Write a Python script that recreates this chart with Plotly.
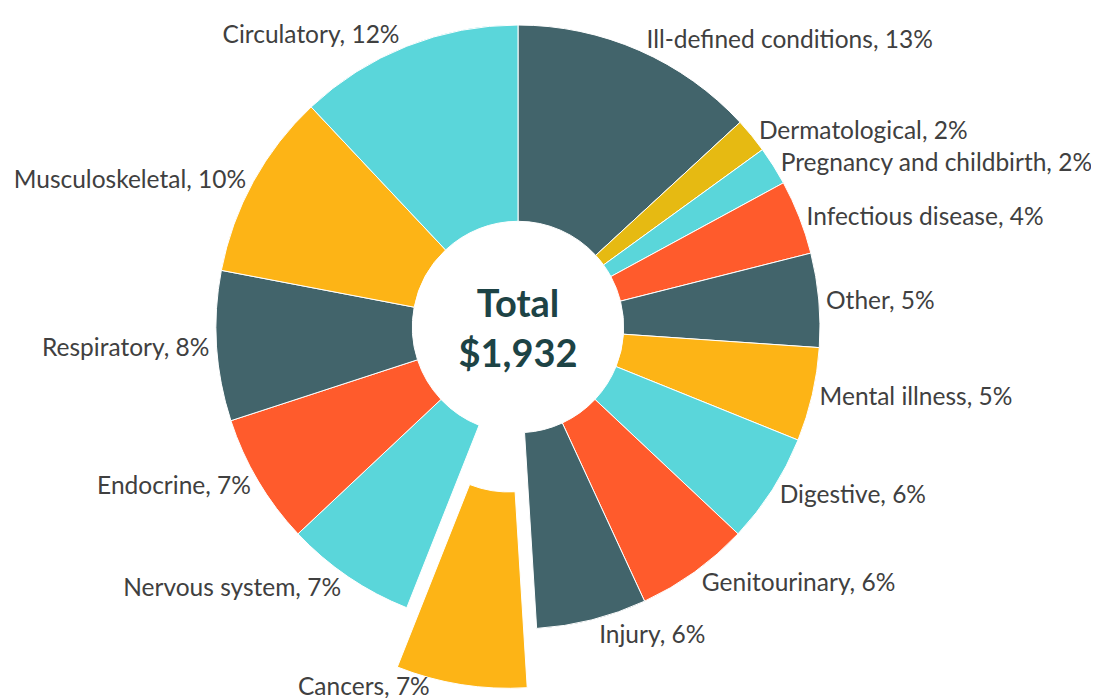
import math
import plotly.graph_objects as go

categories = ["Ill-defined conditions", "Dermatological", "Pregnancy and childbirth",
              "Infectious disease", "Other", "Mental illness", "Digestive",
              "Genitourinary", "Injury", "Cancers", "Nervous system", "Endocrine",
              "Respiratory", "Musculoskeletal", "Circulatory"]
spending = [254, 36, 40, 77, 97, 97, 114, 118, 114, 135, 135, 135, 155, 193, 232]
total_label = "$1,932"
pulled_category = "Cancers"

DARK = "#42646B"
GOLD = "#E6BA12"
TEAL = "#5AD6DA"
RED = "#FF5B2C"
AMBER = "#FDB416"
colors = [DARK, GOLD, TEAL, RED, DARK, AMBER, TEAL, RED, DARK, AMBER, TEAL, RED, DARK, AMBER, TEAL]

W, H = 1099, 698
PAGE_MARGIN = 8                # the html body's default margin shifts the figure
CX, CY, R = 518 - PAGE_MARGIN, 327 - PAGE_MARGIN, 302   # donut centre / radius (px)
PULL_PX = 60                   # how far the highlighted slice is pulled out
HOLE = 0.35
FONT = "Lato"
TEXT_COLOR = "#404040"
LABEL_SIZE = 24.5
PULLED_LABEL_DX, PULLED_LABEL_DY = -29, 1   # label offset from the pulled slice's outer mid point

idx = categories.index(pulled_category)
total = sum(spending)
before = sum(spending[:idx])
mid = (before + spending[idx] / 2) / total * 2 * math.pi
pcx = CX + PULL_PX * math.sin(mid)
pcy = CY - PULL_PX * math.cos(mid)


def domain(cx, cy, r):
    return dict(x=[(cx - r) / W, (cx + r) / W], y=[1 - (cy + r) / H, 1 - (cy - r) / H])


main_colors = [("rgba(0,0,0,0)" if i == idx else c) for i, c in enumerate(colors)]
main_pos = [("none" if i == idx else "outside") for i in range(len(categories))]
main_lw = [(0 if i == idx else 1) for i in range(len(categories))]

fig = go.Figure()
fig.add_trace(go.Pie(
    labels=categories, values=spending, sort=False, direction="clockwise", rotation=0,
    hole=HOLE, domain=domain(CX, CY, R),
    marker=dict(colors=main_colors, line=dict(color="white", width=main_lw)),
    texttemplate="%{label}, %{percent:.0%}", textposition=main_pos,
    outsidetextfont=dict(family=FONT, size=LABEL_SIZE, color=TEXT_COLOR),
    title=dict(text="<b>Total<br>" + total_label + "</b>", position="middle center",
               font=dict(family=FONT, size=38, color="#1D4345")),
    hoverinfo="skip", showlegend=False,
))

# the pulled-out slice, drawn by a second pie whose centre is offset along the slice's mid angle
pull_colors = [(c if i == idx else "rgba(0,0,0,0)") for i, c in enumerate(colors)]
pull_lw = [(1 if i == idx else 0) for i in range(len(categories))]
fig.add_trace(go.Pie(
    labels=categories, values=spending, sort=False, direction="clockwise", rotation=0,
    hole=HOLE, domain=domain(pcx, pcy, R),
    marker=dict(colors=pull_colors, line=dict(color="white", width=pull_lw)),
    textposition="none",
    hoverinfo="skip", showlegend=False,
))

# label of the pulled slice, placed beside its outer edge so it stays inside the picture
ox = pcx + R * math.sin(mid) + PULLED_LABEL_DX
oy = pcy - R * math.cos(mid) + PULLED_LABEL_DY
fig.add_annotation(
    x=ox / W, y=1 - oy / H, xref="paper", yref="paper", xanchor="right", yanchor="middle",
    text=f"{pulled_category}, {round(100 * spending[idx] / total)}%", showarrow=False,
    font=dict(family=FONT, size=LABEL_SIZE, color=TEXT_COLOR),
)

fig.update_layout(width=W, height=H, margin=dict(l=0, r=0, t=0, b=0, autoexpand=False),
                  paper_bgcolor="white", plot_bgcolor="white", showlegend=False)
fig.write_html("out.html")
